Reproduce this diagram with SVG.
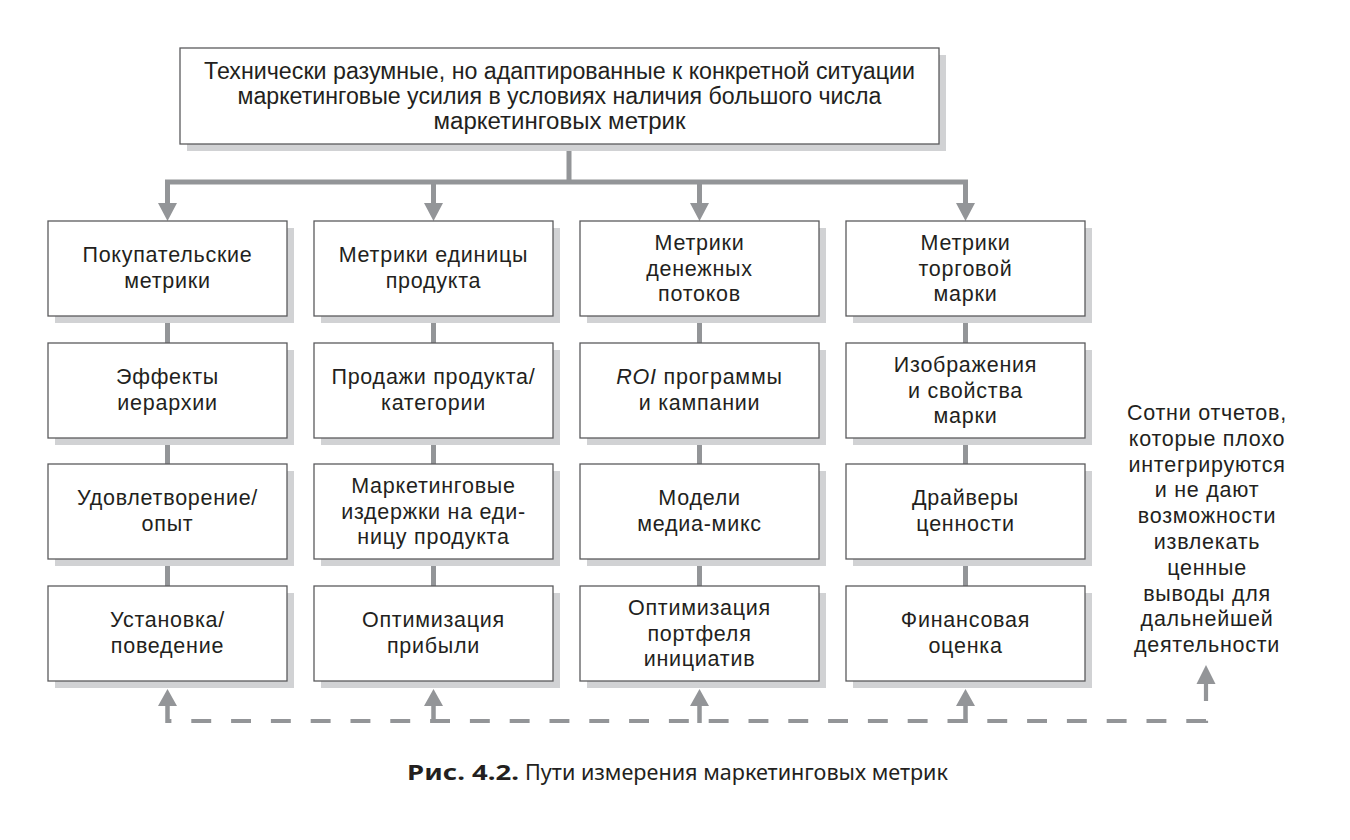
<svg xmlns="http://www.w3.org/2000/svg" width="1350" height="840" viewBox="0 0 1350 840">
  <style>
    .shadow { fill: #d1d2d4; }
    .box { fill: #ffffff; stroke: #5b5b5d; stroke-width: 1.3; }
    .lbl { font-family: "Liberation Sans", Arial, sans-serif; font-size: 21.5px; letter-spacing: 0.75px; fill: #231f20; text-anchor: middle; }
    .head { font-family: "Liberation Sans", Arial, sans-serif; font-size: 23.5px; fill: #231f20; text-anchor: middle; }
    .link { stroke: #939598; stroke-width: 5; fill: none; }
    .dash { stroke: #939598; stroke-width: 4.2; fill: none; stroke-dasharray: 19.9 19.9; }
    .tip { fill: #939598; }
    .cap { font-family: "Noto Sans", "Open Sans", sans-serif; font-size: 21px; fill: #231f20; }
  </style>

  <!-- connectors -->
  <g id="connectors">
    <!-- trunk from the top box and the distribution bar -->
    <path class="link" d="M569 144 V182 M165 182 H968"/>
    <!-- drops into the first row -->
    <path class="link" d="M167.5 180 V204 M433.5 182 V204 M699.5 182 V204 M965.5 180 V204"/>
    <path class="tip" d="M158 203 H177 L167.5 221 Z M424 203 H443 L433.5 221 Z M690 203 H709 L699.5 221 Z M956 203 H975 L965.5 221 Z"/>
    <!-- links between rows -->
    <path class="link" d="M167.5 316 V343 M167.5 438 V464 M167.5 559 V586"/>
    <path class="link" d="M433.5 316 V343 M433.5 438 V464 M433.5 559 V586"/>
    <path class="link" d="M699.5 316 V343 M699.5 438 V464 M699.5 559 V586"/>
    <path class="link" d="M965.5 316 V343 M965.5 438 V464 M965.5 559 V586"/>
    <!-- dashed feedback line along the bottom -->
    <path class="dash" d="M1206 681 V721 H167.5"/>
    <path class="link" d="M167.5 723 V705 M433.5 723 V705 M699.5 723 V705 M965.5 723 V705" style="stroke-width:4.5"/>
    <path class="tip" d="M158 706 H177 L167.5 689 Z M424 706 H443 L433.5 689 Z M690 706 H709 L699.5 689 Z M956 706 H975 L965.5 689 Z M1196.5 684 H1215.5 L1206 665 Z"/>
  </g>

  <!-- top node -->
  <g id="goal">
    <rect class="shadow" x="187" y="55" width="759" height="96"/>
    <rect class="box" x="180" y="48" width="759" height="96"/>
    <text class="head" x="559.5" y="79" textLength="711" lengthAdjust="spacingAndGlyphs">Технически разумные, но адаптированные к конкретной ситуации</text>
    <text class="head" x="559.5" y="104" textLength="644" lengthAdjust="spacingAndGlyphs">маркетинговые усилия в условиях наличия большого числа</text>
    <text class="head" x="559.5" y="129" textLength="252" lengthAdjust="spacingAndGlyphs">маркетинговых метрик</text>
  </g>

  <!-- column 1 -->
  <g id="c1r1">
    <rect class="shadow" x="55" y="228" width="239" height="95"/>
    <rect class="box" x="48" y="221" width="239" height="95"/>
    <text class="lbl" x="167.5" y="261.7">Покупательские</text>
    <text class="lbl" x="167.5" y="288.2">метрики</text>
  </g>
  <g id="c1r2">
    <rect class="shadow" x="55" y="350" width="239" height="95"/>
    <rect class="box" x="48" y="343" width="239" height="95"/>
    <text class="lbl" x="167.5" y="383.7">Эффекты</text>
    <text class="lbl" x="167.5" y="410.2">иерархии</text>
  </g>
  <g id="c1r3">
    <rect class="shadow" x="55" y="471" width="239" height="95"/>
    <rect class="box" x="48" y="464" width="239" height="95"/>
    <text class="lbl" x="167.5" y="504.7">Удовлетворение/</text>
    <text class="lbl" x="167.5" y="531.2">опыт</text>
  </g>
  <g id="c1r4">
    <rect class="shadow" x="55" y="593" width="239" height="95"/>
    <rect class="box" x="48" y="586" width="239" height="95"/>
    <text class="lbl" x="167.5" y="626.7">Установка/</text>
    <text class="lbl" x="167.5" y="653.2">поведение</text>
  </g>

  <!-- column 2 -->
  <g id="c2r1">
    <rect class="shadow" x="321" y="228" width="239" height="95"/>
    <rect class="box" x="314" y="221" width="239" height="95"/>
    <text class="lbl" x="433.5" y="261.7">Метрики единицы</text>
    <text class="lbl" x="433.5" y="288.2">продукта</text>
  </g>
  <g id="c2r2">
    <rect class="shadow" x="321" y="350" width="239" height="95"/>
    <rect class="box" x="314" y="343" width="239" height="95"/>
    <text class="lbl" x="433.5" y="383.7">Продажи продукта/</text>
    <text class="lbl" x="433.5" y="410.2">категории</text>
  </g>
  <g id="c2r3">
    <rect class="shadow" x="321" y="471" width="239" height="95"/>
    <rect class="box" x="314" y="464" width="239" height="95"/>
    <text class="lbl" x="433.5" y="493">Маркетинговые</text>
    <text class="lbl" x="433.5" y="518.5">издержки на еди-</text>
    <text class="lbl" x="433.5" y="544">ницу продукта</text>
  </g>
  <g id="c2r4">
    <rect class="shadow" x="321" y="593" width="239" height="95"/>
    <rect class="box" x="314" y="586" width="239" height="95"/>
    <text class="lbl" x="433.5" y="626.7">Оптимизация</text>
    <text class="lbl" x="433.5" y="653.2">прибыли</text>
  </g>

  <!-- column 3 -->
  <g id="c3r1">
    <rect class="shadow" x="587" y="228" width="239" height="95"/>
    <rect class="box" x="580" y="221" width="239" height="95"/>
    <text class="lbl" x="699.5" y="250">Метрики</text>
    <text class="lbl" x="699.5" y="275.5">денежных</text>
    <text class="lbl" x="699.5" y="301">потоков</text>
  </g>
  <g id="c3r2">
    <rect class="shadow" x="587" y="350" width="239" height="95"/>
    <rect class="box" x="580" y="343" width="239" height="95"/>
    <text class="lbl" x="699.5" y="383.7"><tspan font-style="italic">ROI</tspan> программы</text>
    <text class="lbl" x="699.5" y="410.2">и кампании</text>
  </g>
  <g id="c3r3">
    <rect class="shadow" x="587" y="471" width="239" height="95"/>
    <rect class="box" x="580" y="464" width="239" height="95"/>
    <text class="lbl" x="699.5" y="504.7">Модели</text>
    <text class="lbl" x="699.5" y="531.2">медиа-микс</text>
  </g>
  <g id="c3r4">
    <rect class="shadow" x="587" y="593" width="239" height="95"/>
    <rect class="box" x="580" y="586" width="239" height="95"/>
    <text class="lbl" x="699.5" y="615">Оптимизация</text>
    <text class="lbl" x="699.5" y="640.5">портфеля</text>
    <text class="lbl" x="699.5" y="666">инициатив</text>
  </g>

  <!-- column 4 -->
  <g id="c4r1">
    <rect class="shadow" x="853" y="228" width="239" height="95"/>
    <rect class="box" x="846" y="221" width="239" height="95"/>
    <text class="lbl" x="965.5" y="250">Метрики</text>
    <text class="lbl" x="965.5" y="275.5">торговой</text>
    <text class="lbl" x="965.5" y="301">марки</text>
  </g>
  <g id="c4r2">
    <rect class="shadow" x="853" y="350" width="239" height="95"/>
    <rect class="box" x="846" y="343" width="239" height="95"/>
    <text class="lbl" x="965.5" y="372">Изображения</text>
    <text class="lbl" x="965.5" y="397.5">и свойства</text>
    <text class="lbl" x="965.5" y="423">марки</text>
  </g>
  <g id="c4r3">
    <rect class="shadow" x="853" y="471" width="239" height="95"/>
    <rect class="box" x="846" y="464" width="239" height="95"/>
    <text class="lbl" x="965.5" y="504.7">Драйверы</text>
    <text class="lbl" x="965.5" y="531.2">ценности</text>
  </g>
  <g id="c4r4">
    <rect class="shadow" x="853" y="593" width="239" height="95"/>
    <rect class="box" x="846" y="586" width="239" height="95"/>
    <text class="lbl" x="965.5" y="626.7">Финансовая</text>
    <text class="lbl" x="965.5" y="653.2">оценка</text>
  </g>

  <!-- free-standing note on the right -->
  <g id="note">
    <text class="lbl" x="1207" y="420">Сотни отчетов,</text>
    <text class="lbl" x="1207" y="445.8">которые плохо</text>
    <text class="lbl" x="1207" y="471.6">интегрируются</text>
    <text class="lbl" x="1207" y="497.4">и не дают</text>
    <text class="lbl" x="1207" y="523.2">возможности</text>
    <text class="lbl" x="1207" y="549">извлекать</text>
    <text class="lbl" x="1207" y="574.8">ценные</text>
    <text class="lbl" x="1207" y="600.6">выводы для</text>
    <text class="lbl" x="1207" y="626.4">дальнейшей</text>
    <text class="lbl" x="1207" y="652.2">деятельности</text>
  </g>

  <!-- figure caption -->
  <g id="caption">
    <text class="cap" x="407" y="780" font-weight="bold" textLength="112" lengthAdjust="spacingAndGlyphs">Рис. 4.2.</text>
    <text class="cap" x="525" y="780" textLength="423" lengthAdjust="spacingAndGlyphs">Пути измерения маркетинговых метрик</text>
  </g>
</svg>
